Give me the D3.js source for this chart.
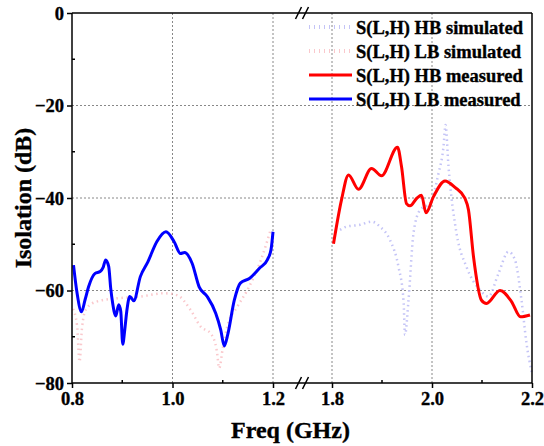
<!DOCTYPE html>
<html>
<head>
<meta charset="utf-8">
<script src="https://cdn.jsdelivr.net/npm/d3@7"></script>
<style>
  body { margin: 0; background: #fff; }
  text { font-family: "Liberation Serif", "Times New Roman", serif; font-weight: bold; fill: #000; stroke: #000; stroke-width: 0.35px; }
</style>
</head>
<body>
<div id="main"></div>
<script>
const ctx = { w: 544, h: 446 };

// x axis is broken: low band and high band
const lowDomain = [0.8, 1.2];
const highDomain = [1.8, 2.2];
const lowTicks = [0.8, 1.0, 1.2];
const highTicks = [1.8, 2.0, 2.2];
const lowMinor = [0.9, 1.1];
const highMinor = [1.9, 2.1];
const yTicks = [0, -20, -40, -60, -80];
const yMinor = [-10, -30, -50, -70];

const seriesNames = ["S(L,H) HB simulated", "S(L,H) LB simulated", "S(L,H) HB measured", "S(L,H) LB measured"];

// [freq GHz, isolation dB]
const lbMeasured = [
  [0.803, -54.5], [0.810, -60.5], [0.819, -64.6], [0.826, -62.0], [0.833, -59.2], [0.846, -56.3],
  [0.856, -55.9], [0.862, -55.0], [0.867, -53.4], [0.873, -54.8], [0.877, -59.5], [0.881, -62.8],
  [0.887, -65.5], [0.893, -63.1], [0.897, -64.5], [0.901, -71.6], [0.905, -68.5], [0.909, -64.5],
  [0.915, -61.3], [0.923, -62.2], [0.936, -57.0], [0.951, -53.8], [0.969, -49.4], [0.987, -47.3],
  [1.003, -49.4], [1.016, -52.0], [1.024, -51.8], [1.039, -54.1], [1.053, -59.2], [1.069, -61.3],
  [1.086, -64.9], [1.096, -68.5], [1.103, -72.0], [1.110, -69.5], [1.123, -62.1], [1.135, -58.4],
  [1.153, -57.4], [1.173, -55.2], [1.189, -53.3], [1.196, -51.2], [1.200, -47.3]
];

const lbSimulated = [
  [0.802, -64.0], [0.810, -67.5], [0.815, -75.4], [0.820, -68.0], [0.828, -64.0], [0.849, -62.4],
  [0.889, -61.7], [0.936, -61.3], [0.983, -60.6], [1.009, -61.0], [1.036, -64.2], [1.056, -67.8],
  [1.076, -69.3], [1.088, -72.9], [1.093, -76.8], [1.100, -72.5], [1.109, -67.8], [1.129, -63.5],
  [1.149, -59.9], [1.176, -53.4], [1.196, -46.6]
];

const hbMeasured = [
  [1.803, -49.9], [1.819, -40.4], [1.833, -35.0], [1.853, -38.1], [1.879, -33.6], [1.899, -35.2],
  [1.931, -29.0], [1.939, -33.2], [1.949, -41.2], [1.956, -41.7], [1.970, -40.0], [1.979, -39.4],
  [1.988, -43.2], [2.003, -39.7], [2.026, -36.3], [2.046, -37.7], [2.066, -40.1], [2.073, -42.6],
  [2.083, -52.7], [2.099, -62.1], [2.109, -62.8], [2.136, -60.0], [2.159, -62.4], [2.177, -65.7],
  [2.196, -65.3]
];

const hbSimulated = [
  [1.816, -46.9], [1.829, -46.2], [1.856, -45.8], [1.879, -45.1], [1.896, -46.2], [1.916, -49.1],
  [1.933, -54.9], [1.943, -62.1], [1.946, -69.6], [1.953, -62.1], [1.963, -47.6], [1.976, -42.6],
  [1.996, -41.1], [2.013, -34.7], [2.023, -28.9], [2.027, -24.2], [2.033, -33.2], [2.049, -47.6],
  [2.069, -54.9], [2.096, -59.9], [2.113, -61.3], [2.133, -56.3], [2.153, -51.6], [2.166, -53.4],
  [2.179, -62.1], [2.189, -71.4], [2.200, -77.9]
];

const colors = {
  hbSim: "#c4c4f6",
  lbSim: "#fac8cc",
  hbMeas: "#ff0000",
  lbMeas: "#0000ff"
};

function createViz() {
  const svg = d3.select("#main").append("svg")
      .attr("width", ctx.w)
      .attr("height", ctx.h);

  const left = 72, right = 532, top = 13, bottom = 383;
  const xL = d3.scaleLinear().domain(lowDomain).range([left, 273]);
  const xR = d3.scaleLinear().domain(highDomain).range([332, right]);
  const y = d3.scaleLinear().domain([-80, 0]).range([bottom, top]);
  const breakX = (xL.range()[1] + xR.range()[0]) / 2;

  // grid
  const grid = svg.append("g")
      .attr("stroke", "#888")
      .attr("stroke-width", 1)
      .attr("stroke-dasharray", "2,2");
  [-20, -40, -60].forEach(v => {
    grid.append("line").attr("x1", left).attr("x2", right)
        .attr("y1", y(v)).attr("y2", y(v));
  });
  [1.0, 1.2].forEach(v => {
    grid.append("line").attr("x1", xL(v)).attr("x2", xL(v)).attr("y1", top).attr("y2", bottom);
  });
  [1.8, 2.0].forEach(v => {
    grid.append("line").attr("x1", xR(v)).attr("x2", xR(v)).attr("y1", top).attr("y2", bottom);
  });

  // curves
  const lineL = d3.line().x(d => xL(d[0])).y(d => y(d[1])).curve(d3.curveMonotoneX);
  const lineR = d3.line().x(d => xR(d[0])).y(d => y(d[1])).curve(d3.curveMonotoneX);

  svg.append("path").datum(lbSimulated).attr("d", lineL)
      .attr("fill", "none").attr("stroke", colors.lbSim)
      .attr("stroke-width", 2.5).attr("stroke-dasharray", "1.5,3.5");
  svg.append("path").datum(hbSimulated).attr("d", lineR)
      .attr("fill", "none").attr("stroke", colors.hbSim)
      .attr("stroke-width", 2.5).attr("stroke-dasharray", "1.5,3.5");
  svg.append("path").datum(lbMeasured).attr("d", lineL)
      .attr("fill", "none").attr("stroke", colors.lbMeas)
      .attr("stroke-width", 3).attr("stroke-linejoin", "round");
  svg.append("path").datum(hbMeasured).attr("d", lineR)
      .attr("fill", "none").attr("stroke", colors.hbMeas)
      .attr("stroke-width", 3).attr("stroke-linejoin", "round");

  // frame: top and right
  const frame = svg.append("g").attr("stroke", "#000").attr("stroke-width", 1.5);
  frame.append("line").attr("x1", left).attr("x2", right).attr("y1", top).attr("y2", top);
  frame.append("line").attr("x1", right).attr("x2", right).attr("y1", top).attr("y2", bottom);

  // axes
  const axL = svg.append("g").attr("transform", `translate(0,${bottom})`)
      .call(d3.axisBottom(xL).tickValues(lowTicks).tickFormat(d3.format(".1f")).tickSize(5).tickPadding(4));
  const axR = svg.append("g").attr("transform", `translate(0,${bottom})`)
      .call(d3.axisBottom(xR).tickValues(highTicks).tickFormat(d3.format(".1f")).tickSize(5).tickPadding(4));
  const axY = svg.append("g").attr("transform", `translate(${left},0)`)
      .call(d3.axisLeft(y).tickValues(yTicks).tickFormat(d3.format("d")).tickSize(5).tickPadding(3));

  [axL, axR, axY].forEach(a => {
    a.select(".domain").remove();
    a.selectAll("line").attr("stroke", "#000").attr("stroke-width", 1.5);
    a.selectAll("text").style("font-size", "18.5px").style("font-family", "Liberation Serif").style("font-weight", "bold");
  });
  axY.selectAll("text").attr("dy", "0.35em");

  frame.append("line").attr("x1", left).attr("x2", right).attr("y1", bottom).attr("y2", bottom);
  frame.append("line").attr("x1", left).attr("x2", left).attr("y1", top).attr("y2", bottom);

  // minor ticks, inside
  const minor = svg.append("g").attr("stroke", "#000").attr("stroke-width", 1.5);
  lowMinor.forEach(v => minor.append("line").attr("x1", xL(v)).attr("x2", xL(v)).attr("y1", bottom).attr("y2", bottom - 3));
  highMinor.forEach(v => minor.append("line").attr("x1", xR(v)).attr("x2", xR(v)).attr("y1", bottom).attr("y2", bottom - 3));
  yMinor.forEach(v => minor.append("line").attr("x1", left).attr("x2", left + 3).attr("y1", y(v)).attr("y2", y(v)));

  // break marks
  const brk = svg.append("g").attr("stroke", "#000").attr("stroke-width", 1.5);
  [top, bottom].forEach(yy => {
    [-4, 3].forEach(dx => {
      brk.append("line")
          .attr("x1", breakX + dx - 3).attr("y1", yy + 6)
          .attr("x2", breakX + dx + 3).attr("y2", yy - 6);
    });
  });

  // axis titles
  svg.append("text")
      .attr("x", breakX - 12).attr("y", 438)
      .attr("text-anchor", "middle")
      .style("font-size", "24px")
      .text("Freq (GHz)");
  svg.append("text")
      .attr("transform", `translate(31,${(top + bottom) / 2}) rotate(-90)`)
      .attr("text-anchor", "middle")
      .style("font-size", "24px")
      .text("Isolation (dB)");

  // legend
  const legend = svg.append("g");
  const legStyles = [
    { c: colors.hbSim, dash: true },
    { c: colors.lbSim, dash: true },
    { c: colors.hbMeas, dash: false },
    { c: colors.lbMeas, dash: false }
  ];
  seriesNames.forEach((name, i) => {
    const yy = 27 + i * 24;
    const s = legStyles[i];
    const ln = legend.append("line")
        .attr("x1", 309).attr("x2", 352).attr("y1", yy).attr("y2", yy)
        .attr("stroke", s.c).attr("stroke-width", 3);
    if (s.dash) ln.attr("stroke-dasharray", "1,4").attr("stroke-width", 4);
    legend.append("text")
        .attr("x", 356).attr("y", yy + 7)
        .style("font-size", "18.5px")
        .text(name);
  });
}

createViz();
</script>
</body>
</html>
